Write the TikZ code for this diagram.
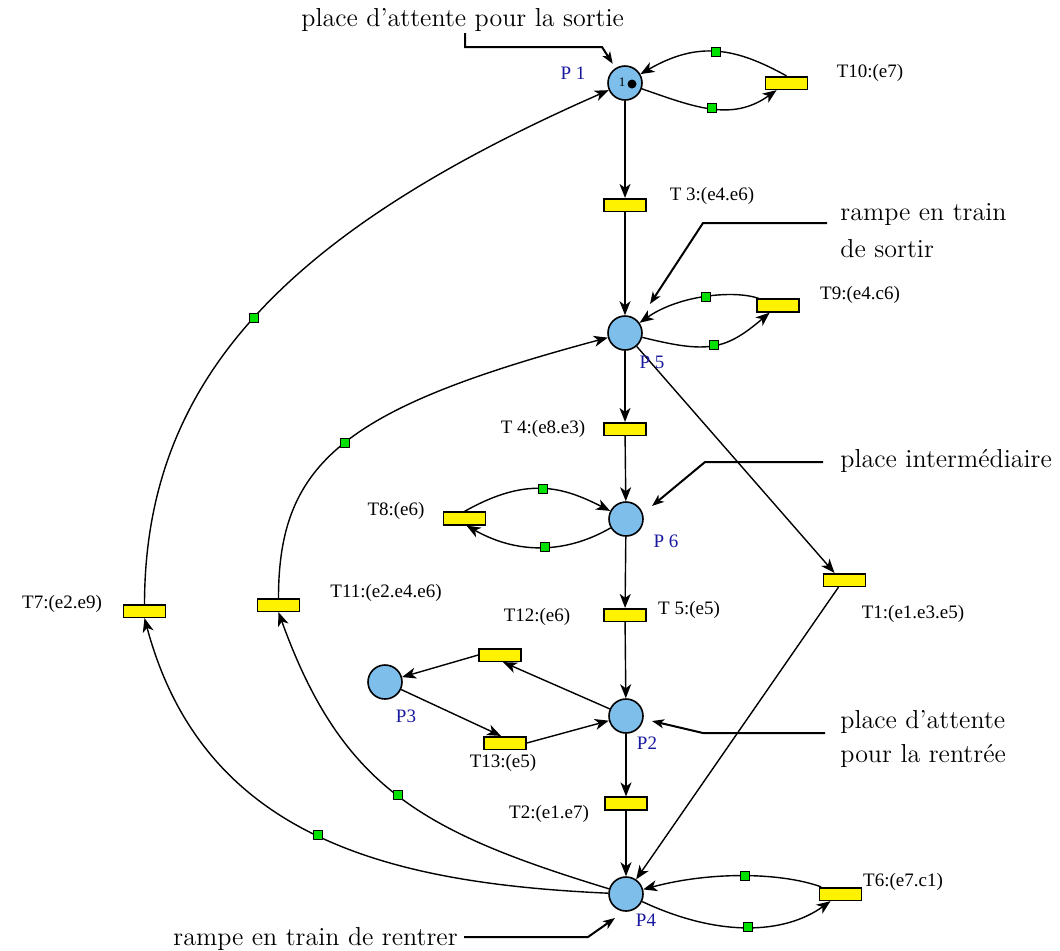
\documentclass[tikz,border=0pt]{standalone}
\usepackage{fontspec}
\newfontfamily\timesfont{Liberation Serif}
\usetikzlibrary{arrows.meta}
\definecolor{placeblue}{RGB}{125,190,235}
\definecolor{gsqgreen}{RGB}{0,225,0}
\definecolor{plabcol}{RGB}{25,25,160}
\begin{document}
\begin{tikzpicture}[x=0.5pt,y=0.5pt,
  place/.style={circle,draw,line width=0.8pt,fill=placeblue,minimum size=17pt,inner sep=0pt},
  trans/.style={rectangle,draw,line width=0.8pt,fill=yellow,minimum width=21pt,minimum height=6.3pt,inner sep=0pt},
  gsq/.style={rectangle,draw,line width=0.5pt,fill=gsqgreen,minimum size=4.5pt,inner sep=0pt},
  arc/.style={line width=0.7pt,-{Stealth[length=7pt,width=5.5pt,inset=2pt]}},
  note/.style={line width=1pt,-{Stealth[length=6pt,width=4.5pt,inset=1.6pt]}},
  tlab/.style={font=\timesfont\fontsize{9.5}{11}\selectfont,inner sep=0pt},
  plab/.style={font=\timesfont\fontsize{9.5}{11}\selectfont,text=plabcol,inner sep=0pt},
  ann/.style={font=\fontsize{13}{19}\selectfont,align=left,inner sep=0pt,anchor=base west}
]
\useasboundingbox (0,0) rectangle (1060,-950);

% places
\node[place] (P1) at (625,-83) {};
\node[place] (P5) at (625,-333) {};
\node[place] (P6) at (626,-519) {};
\node[place] (P2) at (626,-716) {};
\node[place] (P4) at (626,-894) {};
\node[place] (P3) at (385,-682) {};
\node[circle,fill,inner sep=0pt,minimum size=4.5pt] (tok) at (632,-84) {};
\node[font=\timesfont\fontsize{6.5}{7}\selectfont,inner sep=0pt] (tokn) at (622,-82) {1};

% transitions
\node[trans] (T10) at (786.5,-83) {};
\node[trans] (T3) at (625,-205) {};
\node[trans] (T9) at (778,-305.5) {};
\node[trans] (T4) at (625,-429) {};
\node[trans] (T8) at (464.5,-518.5) {};
\node[trans] (T1) at (844.5,-580) {};
\node[trans] (T7) at (144.5,-611) {};
\node[trans] (T11) at (278.5,-605) {};
\node[trans] (T5) at (625,-615) {};
\node[trans] (T12) at (500,-655) {};
\node[trans] (T13) at (505,-743) {};
\node[trans] (T2) at (626,-803.5) {};
\node[trans] (T6) at (840.5,-894) {};

% straight arcs
\draw[arc] (P1) -- (T3);
\draw[arc] (T3) -- (P5);
\draw[arc] (P5) -- (T4);
\draw[arc] (T4) -- (P6);
\draw[arc] (P6) -- (T5);
\draw[arc] (T5) -- (P2);
\draw[arc] (P2) -- (T2);
\draw[arc] (T2) -- (P4);
\draw[arc] (P5) -- ([xshift=-5pt]T1.north);
\draw[arc] ([xshift=-3pt]T1.south) -- (P4);
\draw[arc] (P2) -- ([xshift=1.5pt]T12.south);
\draw[arc] (T12.west) -- (P3);
\draw[arc] (P3) -- ([xshift=-2pt]T13.north);
\draw[arc] (T13.east) -- (P2);

% loops
\draw[arc] (T10.north) .. controls (735.5,-47.6) and (698.4,-40.6) .. (P1);
\draw[arc] (P1) .. controls (693.6,-106.7) and (731.5,-122.3) .. (T10);
\draw[arc] (T9) .. controls (735.9,-290.1) and (680.1,-294.4) .. (P5);
\draw[arc] (P5) .. controls (707.8,-353.7) and (725.3,-350.3) .. (T9);
\draw[arc] (T8.north) .. controls (527,-476.1) and (562.5,-486.6) .. (P6);
\draw[arc] (P6) .. controls (571.2,-550.7) and (522.7,-557.2) .. ([xshift=1pt]T8.south);
\draw[arc] (T6) .. controls (784,-873.2) and (713.9,-870.4) .. (P4);
\draw[arc] (P4) .. controls (719,-937.5) and (784.2,-934.2) .. (T6);

% big arcs
\draw[arc] (T7.north) .. controls (145,-383) and (281,-234) .. (P1);
\draw[arc] (P4) .. controls (392.7,-883.4) and (204,-840) .. (T7.south);
\draw[arc] (P4) .. controls (423,-832) and (342,-788) .. (T11.south);
\draw[arc] (T11.north) .. controls (278.5,-461.7) and (345.8,-407.8) .. (P5);

% green squares (on the arcs)
\node[gsq] (g10a) at (716,-52) {};
\node[gsq] (g10b) at (712,-108) {};
\node[gsq] (g9a) at (706,-297) {};
\node[gsq] (g9b) at (714,-345) {};
\node[gsq] (g8a) at (543,-489) {};
\node[gsq] (g8b) at (545,-547) {};
\node[gsq] (g6a) at (745,-876) {};
\node[gsq] (g6b) at (748,-927) {};
\node[gsq] (g7a) at (254,-318) {};
\node[gsq] (g7b) at (318,-835) {};
\node[gsq] (g11a) at (345,-443) {};
\node[gsq] (g11b) at (398,-795) {};

% place labels
\node[plab] (lP1) at (573,-73) {P 1};
\node[plab] (lP5) at (652,-362) {P 5};
\node[plab] (lP6) at (666,-541) {P 6};
\node[plab] (lP3) at (406,-716) {P3};
\node[plab] (lP2) at (647,-743) {P2};
\node[plab] (lP4) at (646,-920) {P4};

% transition labels
\node[tlab] (lT10) at (870,-73) {T10:(e7)};
\node[tlab] (lT3) at (712,-196) {T 3:(e4.e6)};
\node[tlab] (lT9) at (860,-295) {T9:(e4.c6)};
\node[tlab] (lT4) at (543,-429) {T 4:(e8.e3)};
\node[tlab] (lT8) at (396,-511) {T8:(e6)};
\node[tlab] (lT1) at (913,-614) {T1:(e1.e3.e5)};
\node[tlab] (lT7) at (62,-604) {T7:(e2.e9)};
\node[tlab] (lT11) at (386,-593) {T11:(e2.e4.e6)};
\node[tlab] (lT12) at (537,-617) {T12:(e6)};
\node[tlab] (lT5) at (689,-610) {T 5:(e5)};
\node[tlab] (lT13) at (503,-763) {T13:(e5)};
\node[tlab] (lT2) at (549,-814) {T2:(e1.e7)};
\node[tlab] (lT6) at (903,-882) {T6:(e7.c1)};

% annotations
\node[ann] (ann1) at (301,-26) {place d'attente pour la sortie};
\node[ann,font=\fontsize{13}{18.5}\selectfont] (ann2) at (840,-257) {rampe en train\\de sortir};
\node[ann] (ann3) at (840,-467) {place intermédiaire};
\node[ann,font=\fontsize{13}{17}\selectfont] (ann4) at (840,-762) {place d'attente\\pour la rentrée};
\node[ann] (ann5) at (173,-945) {rampe en train de rentrer};

\coordinate (n1s) at (465,-33);
\coordinate (n1b) at (602,-47);
\draw[note,shorten >=2.5pt] (n1s) |- (n1b) -- (P1);

\coordinate (n2s) at (827,-223);
\coordinate (n2b) at (703,-223);
\coordinate (n2t) at (650,-304);
\draw[note] (n2s) -- (n2b) -- (n2t);

\coordinate (n3s) at (823,-462);
\coordinate (n3b) at (705,-462);
\coordinate (n3t) at (652,-506);
\draw[note] (n3s) -- (n3b) -- (n3t);

\coordinate (n4s) at (825,-733);
\coordinate (n4b) at (703,-733);
\coordinate (n4t) at (652,-721);
\draw[note] (n4s) -- (n4b) -- (n4t);

\path ([xshift=3pt]ann5.base east) coordinate (n5a0);
\coordinate (n5b) at (588,-937);
\coordinate (n5t) at (615,-918);
\draw[note] (n5a0 |- n5b) -- (n5b) -- (n5t);
\end{tikzpicture}
\end{document}
